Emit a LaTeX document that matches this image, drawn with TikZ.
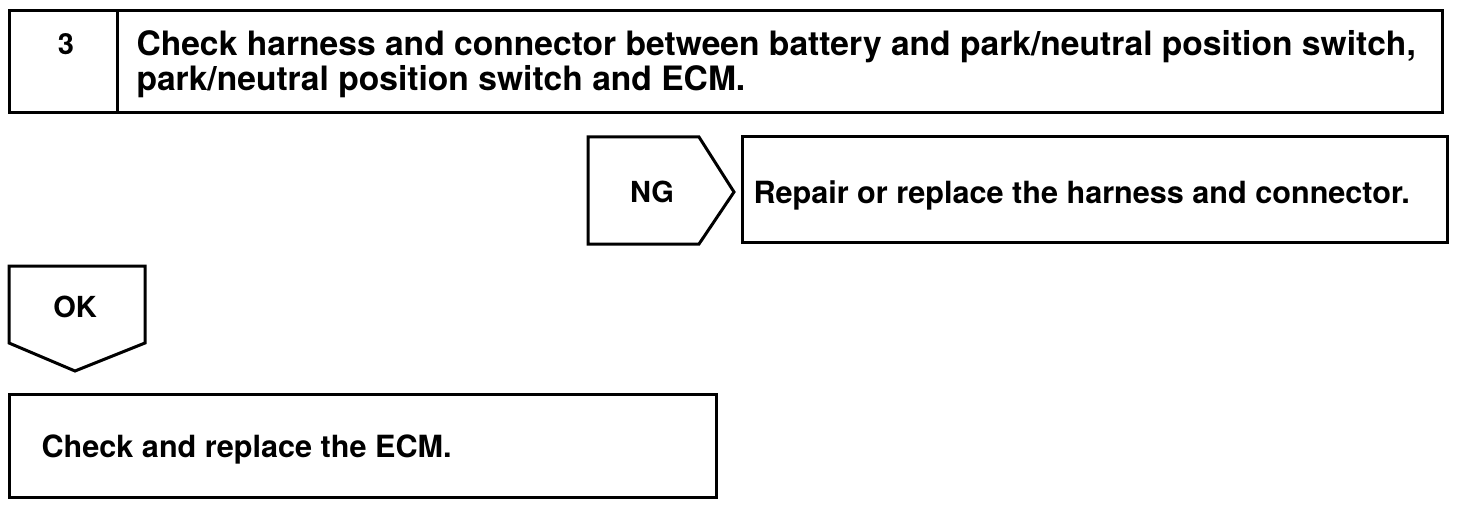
\documentclass[tikz,border=0pt]{standalone}
\usepackage{fontspec}
\setmainfont{TeX Gyre Heros}
\usepackage{tikz}

\begin{document}
\begin{tikzpicture}[x=0.5pt,y=-0.5pt,line width=1.5pt,every text node part/.style={align=left},
box/.style={draw,line width=1.5pt},
txt/.style={font=\bfseries\fontsize{15.3}{14}\selectfont,inner sep=0pt},
title/.style={font=\bfseries\fontsize{16.8}{14.2}\selectfont,inner sep=0pt},
tag/.style={font=\bfseries\fontsize{14.5}{14}\selectfont,inner sep=0pt}]
\useasboundingbox (0,0) rectangle (1472,508);
% step box
\draw[box] (9,11) rectangle (1442,113);
\draw (117,11) -- (117,113);
\node [tag,anchor=base] (num) at (66,55) {3};
\node [title,anchor=west] (check) at (135,64) {Check harness and connector between battery and park/neutral position switch,\\park/neutral position switch and ECM.};
% NG branch
\coordinate (ngA) at (588,137);
\coordinate (ngB) at (699,137);
\coordinate (ngC) at (734,192);
\coordinate (ngD) at (699,244);
\coordinate (ngE) at (588,244);
\draw (ngA) -- (ngB) -- (ngC) -- (ngD) -- (ngE) -- cycle;
\node [tag,anchor=base] (ng) at (652,202) {NG};
\draw[box] (742,137) rectangle (1447,242);
\node [txt,anchor=base west] (repair) at (752,203) {Repair or replace the harness and connector.};
% OK branch
\coordinate (okA) at (9,266);
\coordinate (okB) at (145,266);
\coordinate (okC) at (145,343);
\coordinate (okD) at (75,371);
\coordinate (okE) at (9,343);
\draw (okA) -- (okB) -- (okC) -- (okD) -- (okE) -- cycle;
\node [tag,anchor=base] (ok) at (75,317) {OK};
\draw[box] (9,394) rectangle (716,497);
\node [txt,anchor=base west] (ecm) at (40,457) {Check and replace the ECM.};
\end{tikzpicture}
\end{document}
